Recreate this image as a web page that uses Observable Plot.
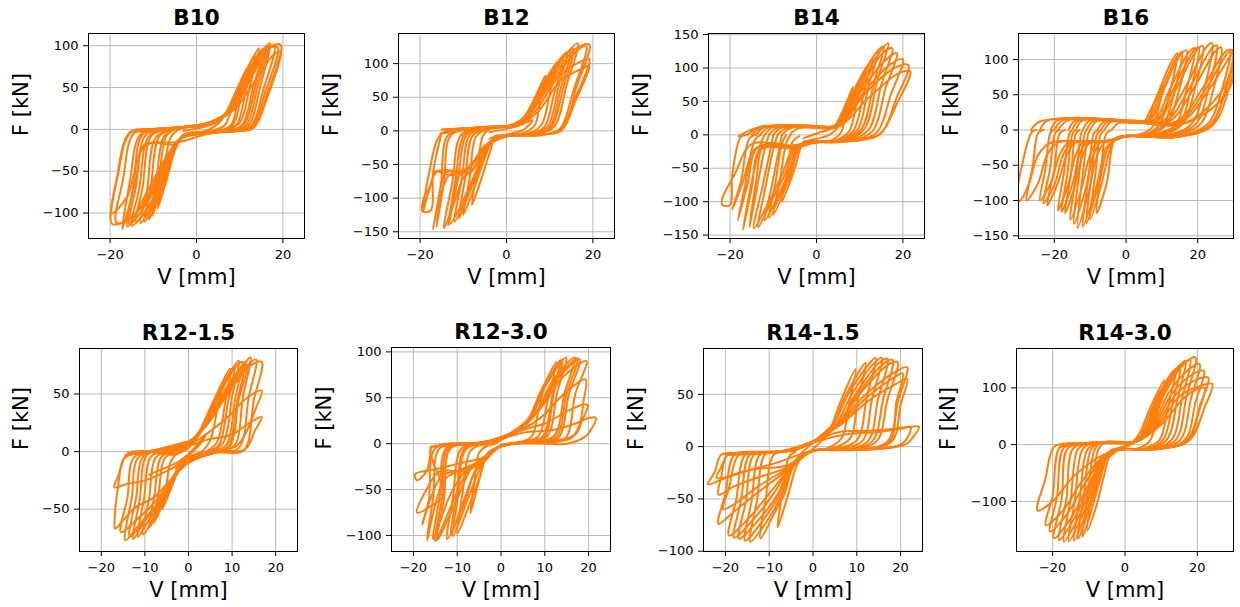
<!DOCTYPE html>
<html><head><meta charset="utf-8">
<script src="https://cdn.jsdelivr.net/npm/d3@7"></script>
<script src="https://cdn.jsdelivr.net/npm/@observablehq/plot@0.6"></script>
<style>
body{margin:0;background:#fff;}
#chart{position:relative;width:1240px;height:607px;overflow:hidden;background:#fff;font-family:"DejaVu Sans",sans-serif;}
#chart svg{position:absolute;overflow:visible;}
</style></head><body><div id="chart"></div>
<script>
// ---------------- DATA ----------------
const titles = ["B10", "B12", "B14", "B16", "R12-1.5", "R12-3.0", "R14-1.5", "R14-3.0"];
const xLabel = "V [mm]";
const yLabel = "F [kN]";

const xTicksB10 = [-20, 0, 20], yTicksB10 = [-100, -50, 0, 50, 100];
const xTicksB12 = [-20, 0, 20], yTicksB12 = [-150, -100, -50, 0, 50, 100];
const xTicksB14 = [-20, 0, 20], yTicksB14 = [-150, -100, -50, 0, 50, 100, 150];
const xTicksB16 = [-20, 0, 20], yTicksB16 = [-150, -100, -50, 0, 50, 100];
const xTicksR1215 = [-20, -10, 0, 10, 20], yTicksR1215 = [-50, 0, 50];
const xTicksR1230 = [-20, -10, 0, 10, 20], yTicksR1230 = [-100, -50, 0, 50, 100];
const xTicksR1415 = [-20, -10, 0, 10, 20], yTicksR1415 = [-100, -50, 0, 50];
const xTicksR1430 = [-20, 0, 20], yTicksR1430 = [-100, 0, 100];

const xDomB10 = [-25, 25], yDomB10 = [-130.4, 114.6];
const xDomB12 = [-25, 25], yDomB12 = [-160, 144.8];
const xDomB14 = [-25, 25], yDomB14 = [-155.1, 151.6];
const xDomB16 = [-30, 30], yDomB16 = [-153.8, 136.8];
const xDomR1215 = [-25, 25], yDomR1215 = [-86.8, 89.6];
const xDomR1230 = [-25, 25], yDomR1230 = [-117.5, 104.8];
const xDomR1415 = [-25, 25], yDomR1415 = [-100.3, 93.9];
const xDomR1430 = [-30, 30], yDomR1430 = [-188.3, 169.4];

// each loop: flat list V,F,V,F,...
const loopsB10 = [
  [-3,-2, 0,1, 3,5, 5,9, 6,12, 4,3, 2,-2, 0,-4, -2,-6, -3,-8, -1,-3],
  [-7,0, -3,3, 2,5, 6,15, 8,32, 10,55, 8.5,30, 6.5,5, 4,-1, 0,-4, -3,-6, -4.5,-18, -7,-62, -9,-95, -8,-70, -6,-10, -4,0, -2,3],
  [-7,0, -2,3, 3,6, 6.5,16, 8.5,36, 11.5,72, 9.8,42, 8,5, 5,-2, 0,-4, -3,-7, -5,-24, -7.8,-68, -10.2,-103, -8.8,-65, -7,-8, -5,0, -2,3],
  [-8,0, -2,3, 3,7, 6.5,17, 8.5,38, 12.5,80, 10.5,45, 8.5,6, 5,-2, 0,-4, -3,-7, -5,-25, -8,-72, -11,-108, -9.5,-70, -7.5,-8, -5,0, -2,3],
  [-9,0, -2,3, 3,7, 7,19, 9,40, 12,75, 13.5,88, 11.6,50, 9.3,6, 6.5,-1, 2,-3, -3,-7, -5.2,-25, -8.5,-75, -12,-110, -10.6,-70, -8.6,-8, -5.5,0, -2,3],
  [-10,0, -2,3, 3,7, 7,20, 9,40, 13,85, 14.5,97, 12.5,55, 10,8, 7,0, 2,-3, -3,-7, -5.5,-26, -9,-78, -13,-112, -11.5,-75, -9.5,-10, -6,0, -2,3],
  [-11,0, -2,3, 3,8, 7.5,22, 10,46, 13.5,82, 15.3,93, 13.2,52, 10.5,5, 7.5,-1, 2,-4, -3,-8, -6,-30, -10,-82, -14,-110, -12.5,-70, -10.5,-8, -7,0, -2,3],
  [-12,0, -2,3, 3,8, 7.5,22, 10,45, 14,88, 16,97, 13.8,55, 11,6, 8,-1, 2,-4, -3,-8, -6,-30, -10,-85, -15,-115, -13.3,-72, -11,-8, -7,0, -2,3],
  [-12.5,0, -3,3, 3,8, 7.8,23, 10.5,48, 14.5,90, 16.5,99, 14.2,52, 11.5,5, 8.5,-1, 2,-4, -3,-8, -6,-28, -10.5,-80, -15.5,-113, -14,-68, -11.8,-7, -7.5,0, -3,3],
  [-13,0, -3,3, 3,8, 8,24, 11,50, 16,97, 18,100, 15.5,48, 12.5,3, 9,-1, 2,-4, -3,-9, -6,-25, -11,-70, -16,-116, -14.5,-65, -12.5,-6, -8,0, -3,3],
  [-14,0, -3,3, 3,8, 8,24, 11,50, 15.5,95, 17,103, 14.8,52, 12,4, 9,-1, 2,-4, -3,-9, -5,-18, -12,-18, -14,-60, -17.2,-120, -15.5,-65, -13,-6, -9,0, -3,3],
  [-14.5,-1, -3,3, 3.5,9, 8.5,26, 11.5,52, 16.5,96, 18.8,98, 16,46, 12.8,3, 9.5,-1, 2.5,-4, -3.5,-10, -7,-40, -13,-95, -18.5,-112, -17,-60, -14.5,-5, -10,0, -3,3],
  [-15,-2, -3,3, 4,10, 9,28, 12,55, 17,98, 19.5,101, 16.5,45, 13,2, 10,-2, 3,-5, -4,-12, -8,-45, -14,-100, -19.5,-113, -18.2,-55, -15.3,-4, -11,0, -3,3],
  [-15.5,-3, -3,2, 4,9, 9,25, 12.5,50, 18,90, 19.5,93, 16.5,40, 13,1, 9,-2, 3,-5, -4,-15, -12,-20, -16,-80, -19.5,-100, -18.5,-60, -15.5,-4, -11,0, -3,2]
];

const loopsB12 = [
  [-4,-2, 0,3, 3,8, 6,16, 4,2, 1,-4, -2,-8, -4,-12, -2,-6],
  [-4,3, 0,6, 3,12, 5,30, 7,55, 9,82, 7.8,45, 6.5,8, 4,-3, 0,-6, -2.5,-10, -4,-35, -6,-75, -8,-110, -6.8,-60, -5.5,-8, -4,3],
  [-7,3, 0,7, 4,18, 6,40, 9,75, 11.7,102, 10,55, 8,8, 5,-4, 0,-7, -3,-12, -5,-40, -7.5,-85, -10,-125, -8.5,-70, -7,-8, -4,4],
  [-9,3, -2,6, 1,8, 4,20, 6.5,45, 10,85, 13,105, 11,55, 8.8,6, 5.5,-4, 0,-7, -3,-13, -5.5,-45, -8.5,-90, -11,-130, -9.5,-68, -7.8,-7, -4,4],
  [-10,3, -3,6, 1,8, 4.5,22, 7,50, 11,95, 14,117, 12,65, 9.5,6, 6,-4, 0,-7, -3.5,-15, -6,-50, -9,-95, -12,-135, -10.3,-70, -8.5,-6, -5,4],
  [-11,3, -3,6, 1,8, 4.8,24, 7.5,55, 12,100, 14.8,118, 12.5,62, 10,5, 6.5,-5, 0,-8, -4,-17, -6.5,-52, -9.8,-100, -13,-138, -11.2,-70, -9.2,-6, -5.5,4],
  [-12.5,2, -4,6, 2,9, 5,26, 8.5,62, 13,108, 16.5,130, 14,70, 11,6, 7,-5, 0,-8, -4,-20, -8,-60, -10,-70, -12,-105, -14.5,-145, -12.5,-75, -10.5,-6, -6,4],
  [-14,2, -4,6, 2,10, 5.5,28, 9,66, 14,115, 15.5,122, 13.2,65, 10.3,5, 7,-5, 0,-8, -4,-20, -8,-58, -11,-67, -12.5,-100, -13.5,-140, -11.8,-72, -9.8,-6, -6,4],
  [-14.5,2, -4,6, 2.5,10, 6,30, 10.5,72, 16.5,120, 18.5,126, 15.6,62, 12.3,3, 8,-6, 0,-8, -5,-22, -9,-58, -13,-64, -15,-90, -16.2,-143, -14.5,-78, -12.8,-6, -7,4],
  [-15,2, -4,6, 3,10, 6,30, 10,72, 16,122, 19.2,128, 16.2,66, 13,3, 8,-6, 0,-8, -5,-22, -9,-57, -14,-62, -15.5,-95, -17,-146, -15.2,-80, -13.5,-6, -8,4],
  [-15,-3, -5,5, 3,10, 7,32, 12,80, 17.5,104, 19.2,107, 16,50, 12.5,2, 8,-6, 0,-8, -5,-24, -9,-58, -16,-60, -18,-90, -19.3,-120, -18,-65, -15,-4, -9,3],
  [-15.3,-4, -5,5, 3,9, 7.5,30, 12.5,75, 18,94, 19.2,97, 16,45, 12.6,0, 8,-5, 0,-8, -5,-25, -9,-55, -13,-66, -16.5,-60, -17.5,-80, -19.3,-103, -19.4,-120, -17.5,-118, -17,-62, -15,-3]
];

const loopsB14 = [
  [-3,-5, 0,2, 3,8, 5,12, 3,0, 0,-6, -3,-10],
  [-6,2, -4,10, 0,11, 4,13, 6,35, 8.5,72, 7,35, 5.5,2, 3,-9, 0,-10, -3,-12, -5,-50, -8,-100, -6.8,-55, -5.5,-10, -4,-2],
  [-8,0, -6,10, 0,12, 4.5,14, 7,45, 11.6,102, 9.5,55, 7.5,5, 4,-9, 0,-10, -3.5,-14, -6,-60, -10,-120, -8.5,-70, -7,-12, -6,0],
  [-9,0, -7,10, 0,12, 4.8,14, 7.5,50, 13,115, 11,65, 8.5,6, 4.5,-9, 0,-10, -3.8,-15, -6.5,-62, -11,-124, -9.5,-72, -8,-13, -7,0],
  [-10,0, -8,11, 0,13, 5,15, 8,55, 14.3,127, 12,72, 9.5,8, 5,-10, 0,-11, -4,-16, -7,-65, -12,-128, -10.3,-75, -8.5,-15, -8,0],
  [-11,0, -9,11, -1,13, 5,14, 8.5,58, 13.5,120, 15.5,132, 13.3,78, 10.3,8, 5.5,-10, 0,-11, -4.5,-17, -7.5,-62, -10.5,-100, -13.5,-138, -11.8,-78, -9.8,-16, -9,0],
  [-12,0, -10,12, -2,14, 5,14, 9,60, 14,118, 16.6,137, 14,80, 11,8, 6,-10, 0,-11, -5,-18, -8,-60, -11,-100, -14.5,-140, -12.6,-80, -10.5,-17, -10,0],
  [-13,0, -11,12, -3,14, 5,14, 9.5,60, 15,120, 17.5,130, 15,75, 12,7, 7,-9, 0,-11, -5,-17, -12,-15, -14,-70, -15.5,-138, -13.8,-80, -11.8,-16, -11,0],
  [-14,0, -12,12, -4,14, 5,14, 10,62, 16,112, 18.6,122, 16,70, 13,6, 8,-9, 0,-11, -5,-20, -13,-22, -15,-80, -17,-142, -15.3,-80, -13,-15, -12,0],
  [-15,0, -12.5,11, -4,13, 5,13, 10.5,60, 17,105, 20,113, 17.3,62, 14,4, 9,-8, 0,-11, -5.5,-19, -13.5,-18, -16,-75, -18.2,-128, -16.5,-75, -14.3,-8, -13,0],
  [-16,0, -13,12, -4,13, 5,13, 11,60, 18,100, 21.3,104, 18.5,55, 15,3, 10,-8, 0,-11, -6,-18, -14,-20, -17,-70, -19.5,-112, -17.5,-70, -15.5,-5, -14,0],
  [-18,-2, -14,10, -4,12, 5,12, 12,55, 19,92, 21.7,95, 18.5,45, 14.7,1, 10,-8, 0,-10, -6,-16, -15,-14, -19,-60, -21.8,-95, -21.8,-105, -20,-105, -19.5,-60, -17.5,-3, -16,0]
];

const loopsB16 = [
  [-4,0, -2,10, 2,10, 5,12, 7,30, 10.5,65, 9,30, 7,2, 3,-7, 0,-8, -3,-12, -5.4,-76, -8.2,-118, -7,-60, -5.5,-5, -4,0],
  [-6,0, -4,12, 2,12, 6,14, 8,40, 12.5,95, 14.3,109, 12.5,60, 9,5, 4,-8, 0,-8, -3,-13, -4.5,-28, -7,-80, -10,-127, -8.5,-60, -7,-5, -6,0],
  [-7,0, -5,12, 2,12, 6.5,14, 9,45, 14,102, 15.6,111, 13.8,60, 10,5, 4.5,-8, 0,-8, -3,-14, -5,-25, -7.5,-75, -11,-132, -9.5,-60, -8,-5, -7,0],
  [-8,0, -6,12, 2,13, 7,15, 10,50, 15,105, 16.9,113, 15,60, 11,6, 5,-8, 0,-8, -3,-14, -5.5,-25, -8,-75, -12,-137, -10.3,-60, -9,-5, -8,0],
  [-10,0, -8,13, 2,13, 8,15, 12,55, 17.5,110, 19.2,116, 17,60, 13.5,6, 6,-8, 0,-9, -3,-14, -6,-18, -8,-35, -10.5,-90, -13.5,-139, -12,-60, -10.5,-5, -10,0],
  [-11,0, -9,13, 2,13, 8.5,14, 13,56, 19,113, 20.3,117, 18.2,60, 14.5,6, 7,-8, 0,-9, -3.5,-15, -7,-17, -9,-35, -11.5,-88, -14.5,-133, -13,-60, -11.5,-5, -11,0],
  [-12,0, -10,14, 2,13, 9,14, 14,58, 20,115, 21.4,119, 19.3,60, 15.5,7, 8,-8, 0,-9, -4,-15, -8,-18, -10,-35, -12.5,-85, -15.5,-127, -13.8,-60, -12.5,-5, -12,0],
  [-14,0, -12,14, 2,12, 10,12, 16.5,60, 22.5,118, 24,123, 22,62, 18,7, 10,-8, 0,-9, -4,-15, -10,-18, -12,-35, -14,-75, -17,-118, -15.3,-60, -14,-5, -13,0],
  [-15,0, -13,14, 2,12, 11,12, 17.8,60, 23.8,115, 25.3,120, 23.2,61, 19.2,7, 11,-8, 0,-9, -4.5,-16, -11,-18, -13,-35, -15,-78, -18,-116, -16.3,-60, -14.9,-5, -14,0],
  [-16,0, -14,14, 2,12, 12,12, 19,60, 25,112, 26.6,117, 24.5,60, 20.5,7, 12,-8, 0,-9, -5,-16, -12,-18, -14,-35, -16,-75, -19,-114, -17.3,-60, -15.8,-5, -15,0],
  [-19,0, -16,14, 2,12, 14,12, 21.5,60, 27.5,110, 29,114, 27,62, 22.5,7, 13,-9, 0,-9, -5,-16, -14,-18, -16.5,-35, -19,-75, -22,-107, -20,-55, -18.5,-5, -17,0],
  [-20,0, -17.5,14, 1,12, 14.5,11, 22.5,60, 28.5,110, 29.8,113, 28,61, 23.2,6, 13.5,-9, 0,-9, -5.5,-16, -15,-18, -17.5,-35, -20,-78, -23,-104, -21.2,-55, -19.7,-4, -18.5,0],
  [-21,0, -19,14, 0,13, 15,10, 23.5,60, 29.5,108, 30.5,113, 28.8,60, 24,6, 14,-10, 0,-9, -6,-16, -16,-18, -18.5,-35, -21,-75, -24,-100, -22.5,-55, -21,-3, -20,0],
  [-24,0, -22,13, 0,12, 16,9, 26,50, 31,105, 30,95, 27.5,50, 23.4,6, 14,-10, 0,-9, -6,-16, -19,-18, -22,-35, -24.5,-75, -27.7,-100, -26,-50, -24.5,-4, -23,0],
  [-26.5,0, -24,12, 0,12, 16,9, 27,45, 31,90, 29.5,85, 27,45, 23.5,5, 14,-10, 0,-9, -6,-16, -21,-18, -24.5,-35, -27,-75, -29.5,-100, -30.5,-100, -29,-50, -26.3,-3, -25,0]
];

const loopsR1215 = [
  [-2,-8, 0,-2, 2,6, 4,15, 3,8, 1,0, -1,-8, -3,-15, -1,-10],
  [-4,-3, -2,-1, 0,3, 2,12, 4,28, 7.5,55, 6.5,35, 5,10, 3,0, 0,-5, -2,-14, -4,-32, -6,-50, -5,-28, -4,-8, -2,0, 0,3],
  [-6,-2, -3,0, 0,5, 2,14, 5,38, 9.6,72, 8.3,40, 6.5,8, 4,0, 0,-6, -2,-15, -5,-38, -8,-62, -6.8,-35, -5.5,-6, -3,0, 0,5],
  [-7,-1, -3,0, 0,5, 2.5,16, 5.5,40, 10.5,74, 9,42, 7,6, 4.5,0, 0,-6, -2.5,-16, -5.5,-40, -9,-66, -7.8,-38, -6.3,-5, -3.5,0, 0,5],
  [-8,-1, -3,1, 0,6, 3,18, 6,44, 9.5,68, 11.5,79, 10,48, 8,8, 5,0, 0,-7, -3,-18, -6,-42, -10.4,-72, -9,-40, -7.5,-5, -4,1, 0,6],
  [-9,0, -3.5,1, 0,6, 3,18, 6.5,45, 10.5,72, 12.3,78, 10.7,46, 8.7,6, 5.5,0, 0,-7, -3,-19, -6.5,-44, -9.5,-62, -11.6,-74, -10.2,-41, -8.5,-4, -4.5,1, 0,6],
  [-10,0, -4,2, 0,7, 3,18, 7,45, 11,68, 13.4,75, 11.5,45, 9.5,5, 6,-1, 0,-8, -3,-20, -7,-45, -10,-60, -12.7,-76, -11.2,-42, -9.5,-3, -5,2, 0,7],
  [-11,0, -4.5,2, 0,7, 3,19, 7.5,46, 11.5,70, 13,78, 11.2,44, 9,4, 5.5,-1, 0,-8, -3,-19, -7,-44, -10.5,-62, -13.5,-74, -12,-40, -10.3,-4, -5.5,2, 0,7],
  [-12,0, -5,2, 0,8, 3,20, 8,48, 12,72, 14.2,82, 12.5,48, 10.5,5, 6,-1, 0,-9, -3,-20, -7,-45, -11,-62, -14.5,-77, -13,-40, -11.5,-5, -6,2, 0,8],
  [-13,0, -5.5,2, 0,8, 3.5,21, 8.5,49, 13,73, 15.5,80, 13.8,47, 11.5,3, 6,-1, 0,-9, -3,-20, -7.5,-43, -11.5,-58, -15.5,-70, -14,-40, -12.5,-5, -7,2, 0,8],
  [-14,-1, -6,2, 0,9, 4,22, 9,50, 14,74, 16.8,78, 15,45, 12.6,1, 6,-1, 0,-10, -3,-20, -8,-40, -12,-48, -15.5,-62, -16.8,-67, -16.9,-55, -16.5,-40, -16.2,-32, -14.4,-4, -8,1, 0,9],
  [-14.5,-3, -6,1, 0,6, 4,15, 9,30, 13.5,47, 16.8,53, 15.5,38, 13,15, 11,5, 6,0, 0,-6, -4,-15, -10,-25, -14,-28, -17,-31, -16,-20, -14.5,-5, -8,0],
  [-8,0, 0,5, 4,10, 10,15, 14,25, 16.8,30, 15.2,18, 13,2, 8,0, 0,-5, -4,-12, -9,-20]
];

const loopsR1230 = [
  [-4,-3, -2,-1, 0,4, 3,14, 6,25, 8,45, 9.9,65, 8.5,35, 7,8, 4,1, 0,-3, -3,-10, -5,-40, -7,-76, -6,-40, -5,-10, -3,-2],
  [-6,-1, -3,0, 0,4, 3,14, 6.5,28, 9,55, 12.6,89, 10.8,50, 8.5,8, 5,2, 0,-3, -3,-12, -5,-38, -7.5,-70, -10,-98, -8.8,-55, -7,-8, -4,-1],
  [-7,-1, -3.5,0, 0,5, 3.5,15, 6.8,29, 9.5,58, 13.5,91, 11.7,52, 9.5,8, 5.5,2, 0,-3, -3,-13, -5.5,-35, -8,-66, -11,-101, -9.8,-57, -8,-6, -4.5,-1],
  [-8,0, -4,0, 0,5, 4,16, 7,30, 10,62, 14.9,94, 12.8,55, 10.5,8, 6,3, 0,-3, -3,-14, -6,-30, -8,-60, -12.3,-104, -11,-60, -9,-5, -5,0],
  [-9,0, -4,0, 0,5, 4,16, 7,32, 10.5,66, 14,92, 12,54, 9.8,7, 5.5,3, 0,-3, -3,-14, -6,-32, -8.5,-62, -11.5,-100, -10.2,-58, -8.3,-5, -5,0],
  [-10,0, -4,1, 0,6, 4,17, 8,34, 12,70, 16.8,94, 14.5,55, 12,8, 6,2, 0,-3, -4,-15, -7,-29, -10,-60, -14.6,-105, -13,-60, -11.5,-5, -6,0],
  [-11,0, -4.5,1, 0,6, 4.2,17, 8.2,35, 12.5,70, 17.5,93, 15,55, 12.5,7, 6.5,2, 0,-3, -4,-15, -7.5,-29, -10.5,-58, -15,-106, -13.5,-60, -12,-5, -6.5,0],
  [-12,0, -5,1, 0,7, 4.5,18, 8.5,36, 13,71, 18,92, 15.5,54, 13,6, 7,2, 0,-3, -4,-16, -8,-29, -11.5,-55, -15.5,-104, -14,-58, -12.5,-5, -7,0],
  [-13,0, -5,1, 0,7, 5,18, 9,38, 14,72, 19.5,90, 17,55, 14.5,5, 8,2, 0,-3, -4,-18, -9,-28, -13,-40, -16.9,-105, -15.5,-60, -14,-5, -8,0],
  [-14,-1, -5.5,1, 0,6, 5,16, 9.5,30, 14.5,55, 19.3,70, 18.8,45, 18,22, 16,6, 10,2, 0,-2, -4,-19, -9,-29, -13.5,-35, -18,-88, -16.5,-62, -15,-5, -8,0],
  [-15,-2, -6,0, 0,6, 5,15, 10,22, 15,35, 19,43, 19.8,42, 18.5,25, 17,10, 12,3, 0,-2, -4,-20, -9,-30, -14,-30, -17,-50, -19.2,-75, -16,-68, -13,-55, -15.5,-20, -16,-5, -8,0],
  [-16,-3, -6,0, 0,5, 5,12, 12,15, 17,22, 20,28, 21.7,28, 20.5,15, 19.3,8, 15,0, 10,0, 0,-2, -4,-15, -10,-22, -15,-28, -19.6,-33, -19.2,-40, -17,-30, -16,-3]
];

const loopsR1415 = [
  [-5,-20, -2,-8, 0,-2, 3,10, 5,22, 3,15, 0,4, -3,-8, -5,-20],
  [-5,-5, -2,0, 2,8, 4,18, 6,40, 9.7,74, 8.2,40, 6.5,8, 3,-2, 0,-4, -3,-12, -5.8,-48, -8.1,-77, -7,-45, -5.5,-10, -4,-5],
  [-8,-5, -4,-3, 0,5, 4,16, 7,45, 12,80, 10.2,45, 8.5,8, 4,-2, 0,-4, -4,-14, -6.5,-45, -9,-65, -12,-88, -10.8,-50, -9,-8, -6,-5],
  [-10,-5, -4,-3, 0,5, 4,17, 8,50, 12,75, 14.3,85, 12.3,48, 10,6, 5,-2, 0,-4, -4,-16, -7,-45, -10,-68, -14.3,-91, -12.8,-52, -11,-8, -8,-5],
  [-11,-5, -4.5,-3, 0,5, 4.5,17, 9,51, 13.5,78, 15.7,85, 13.5,46, 11.2,5, 5.5,-2, 0,-4, -4.5,-17, -7.5,-45, -11,-68, -15.5,-90, -14,-52, -12.2,-8, -9,-5],
  [-12,-5, -5,-3, 0,5, 5,18, 10,52, 15,80, 17,84, 14.8,45, 12.5,5, 6,-3, 0,-4, -5,-18, -8,-45, -12,-68, -16.9,-88, -15.3,-52, -13.5,-8, -10,-5],
  [-14,-6, -5.5,-4, 0,5, 5,18, 10.5,52, 16,79, 18.2,83, 16,45, 13.5,5, 7,-3, 0,-4, -5,-19, -9,-45, -13.5,-69, -18,-87, -16.4,-51, -14.5,-8, -11,-5],
  [-15,-6, -6,-4, 0,5, 5,18, 11,52, 17,78, 19.3,81, 17,45, 14.5,5, 8,-3, 0,-4, -5,-20, -10,-45, -15,-70, -19.2,-85, -17.5,-50, -15.5,-8, -12,-5],
  [-16,-6, -6,-4, 0,5, 5.5,19, 12.5,48, 18.5,66, 20.5,70, 19,42, 17.5,5, 9,-3, 0,-4, -5.5,-20, -12.5,-38, -18,-55, -20.5,-60, -19.2,-40, -17,-8, -13,-5],
  [-17,-6, -6,-4, 0,5, 5,18, 12,50, 19,72, 21.5,76, 19.5,45, 17,5, 10,-3, 0,-4, -5,-20, -12,-42, -18,-62, -21.6,-74, -20,-45, -18,-8, -14,-5],
  [-18,-7, -8,-5, 0,5, 6,20, 13,45, 19,60, 21.5,65, 20,40, 18,5, 10,-3, 0,-4, -6,-20, -13,-30, -18,-38, -21.6,-46, -21,-30, -19.5,-8, -15,-6],
  [-20,-8, -8,-5, 0,5, 6,14, 12,15, 18,17, 22.3,19, 24.2,19, 23,10, 21.5,3, 18,-1, 10,-3, 0,-4, -6,-18, -14,-22, -20,-30, -24,-36, -22.5,-25, -21,-8, -18,-6],
  [-18,-6, -6,-4, 0,4, 8,12, 15,14, 20,17, 22.3,19, 21.5,8, 20,2, 12,-3, 0,-4, -8,-15, -16,-24, -22,-30, -21,-20, -19.5,-6]
];

const loopsR1430 = [
  [-4,-10, 0,-2, 3,8, 6,25, 4,10, 1,-2, -2,-10, -5,-25, -3,-15],
  [-6,3, -2,5, 2,5, 4,20, 7,65, 10.8,113, 9,60, 7,8, 4,-6, 0,-8, -3.5,-11, -6,-60, -8,-110, -10.4,-151, -9,-80, -7.5,-10, -6,3],
  [-8,3, -3,5, 3,5, 5,25, 9,85, 14,133, 12,70, 9.5,8, 5,-7, 0,-8, -4,-12, -7,-65, -9.5,-120, -11.8,-163, -10.3,-90, -8.5,-10, -7,3],
  [-9,3, -3,5, 3,5, 5.5,26, 9.5,88, 13,125, 15.3,140, 13.2,75, 10.5,8, 5.5,-8, 0,-8, -4,-12, -7.5,-68, -10.2,-120, -13,-166, -11.4,-92, -9.5,-10, -7.5,3],
  [-10,2, -4,5, 3,5, 6,28, 10,90, 14.5,135, 16.7,148, 14.5,80, 11.5,8, 6,-8, 0,-8, -4,-13, -8,-70, -11,-125, -14.1,-169, -12.5,-95, -10.5,-10, -8,3],
  [-11,2, -4,5, 3,5, 6.5,29, 10.5,90, 15,135, 18,150, 15.8,82, 12.8,8, 6.5,-8, 0,-8, -4,-14, -8.5,-70, -12,-128, -15.5,-170, -13.8,-95, -11.8,-9, -9,3],
  [-12,2, -4,5, 3,5, 7,30, 11,90, 16,140, 19.5,154, 17,85, 14,8, 7,-8, 0,-8, -4,-14, -9,-70, -13,-130, -16.9,-171, -15,-95, -13,-8, -10,3],
  [-13,2, -4.5,5, 3,5, 7.5,31, 12,90, 17.5,132, 20.6,142, 18.2,80, 15.2,8, 7.5,-8, 0,-8, -4.5,-15, -9.5,-70, -14,-130, -18.2,-168, -16.2,-95, -14.5,-8, -11,3],
  [-15,0, -5,5, 3,5, 8,32, 13,90, 19,125, 21.8,130, 19.5,75, 16.5,8, 8,-8, 0,-8, -5,-15, -10,-70, -15,-130, -19.6,-165, -17.5,-95, -16,-8, -12,3],
  [-16,-1, -5.5,4, 3,5, 8.5,32, 14,88, 20,115, 23,118, 20.8,70, 17,7, 8.5,-8, 0,-8, -5,-15, -11,-68, -16,-122, -20.7,-153, -18.8,-92, -17,-6, -13,3],
  [-17,-2, -6,4, 3,5, 9,32, 15,85, 21,104, 24.1,107, 22,65, 17.7,7, 9,-8, 0,-8, -5,-16, -12,-65, -17,-115, -21.9,-142, -20,-90, -18,-4, -14,3],
  [-18,-4, -7,3, 3,5, 10,35, 16,80, 20,98, 22,100, 20.5,60, 17.5,8, 9,-8, 0,-8, -6,-18, -14,-55, -20,-100, -24.2,-116, -22,-60, -19.6,-4, -15,2]
];

// ---------------- LAYOUT ----------------
const panels = [
  {title: titles[0], loops: loopsB10, xd: xDomB10, yd: yDomB10, xt: xTicksB10, yt: yTicksB10, frame: [88, 33, 304, 238], ylx: 27.5},
  {title: titles[1], loops: loopsB12, xd: xDomB12, yd: yDomB12, xt: xTicksB12, yt: yTicksB12, frame: [398, 33, 614, 238], ylx: 337.5},
  {title: titles[2], loops: loopsB14, xd: xDomB14, yd: yDomB14, xt: xTicksB14, yt: yTicksB14, frame: [708, 33, 924, 238], ylx: 647.5},
  {title: titles[3], loops: loopsB16, xd: xDomB16, yd: yDomB16, xt: xTicksB16, yt: yTicksB16, frame: [1018, 33, 1233, 238], ylx: 957.5},
  {title: titles[4], loops: loopsR1215, xd: xDomR1215, yd: yDomR1215, xt: xTicksR1215, yt: yTicksR1215, frame: [79, 348, 297, 551], ylx: 27},
  {title: titles[5], loops: loopsR1230, xd: xDomR1230, yd: yDomR1230, xt: xTicksR1230, yt: yTicksR1230, frame: [391, 347, 610, 551], ylx: 330},
  {title: titles[6], loops: loopsR1415, xd: xDomR1415, yd: yDomR1415, xt: xTicksR1415, yt: yTicksR1415, frame: [703, 348, 922, 551], ylx: 642},
  {title: titles[7], loops: loopsR1430, xd: xDomR1430, yd: yDomR1430, xt: xTicksR1430, yt: yTicksR1430, frame: [1016, 348, 1233, 551], ylx: 954}
];

const ML = 100, MR = 12, MT = 45, MB = 62;
const fmt = d => (d < 0 ? "\u2212" + (-d) : String(d));
const orange = "#ff7f0e";
const chart = document.getElementById("chart");

for (const p of panels) {
  const [L, T, R, B] = p.frame;
  const pts = [];
  p.loops.forEach((loop, k) => {
    for (let i = 0; i + 1 < loop.length; i += 2) pts.push({v: loop[i], f: loop[i + 1], loop: k});
  });
  const svg = Plot.plot({
    width: (R - L) + ML + MR,
    height: (B - T) + MT + MB,
    marginLeft: ML, marginRight: MR, marginTop: MT, marginBottom: MB,
    x: {domain: p.xd},
    y: {domain: p.yd},
    style: {fontFamily: "'DejaVu Sans', sans-serif", fontSize: "13px", color: "#000", background: "transparent", overflow: "visible"},
    marks: [
      Plot.ruleX(p.xt, {stroke: "#b0b0b0", strokeWidth: 0.9}),
      Plot.ruleY(p.yt, {stroke: "#b0b0b0", strokeWidth: 0.9}),
      Plot.line(pts, {x: "v", y: "f", z: "loop", stroke: orange, strokeWidth: 2, clip: true, strokeLinejoin: "round", curve: "catmull-rom"}),
      Plot.frame({stroke: "#000", strokeWidth: 1}),
      Plot.axisX(p.xt, {tickSize: 5, tickPadding: 6, tickFormat: fmt, fontSize: 13, label: null}),
      Plot.axisY(p.yt, {tickSize: 5, tickPadding: 5, tickFormat: fmt, fontSize: 13, label: null}),
      Plot.text([p.title], {frameAnchor: "top", lineAnchor: "bottom", dy: -8.5, fontSize: 21.5, fontWeight: "bold", fill: "#000"}),
      Plot.text([xLabel], {frameAnchor: "bottom", lineAnchor: "bottom", dy: 45.5, fontSize: 21, fill: "#000"}),
      Plot.text([yLabel], {frameAnchor: "left", lineAnchor: "bottom", rotate: -90, dx: p.ylx - L, fontSize: 21, fill: "#000"})
    ]
  });
  svg.style.left = (L - ML) + "px";
  svg.style.top = (T - MT) + "px";
  chart.appendChild(svg);
}
</script>
</body></html>
